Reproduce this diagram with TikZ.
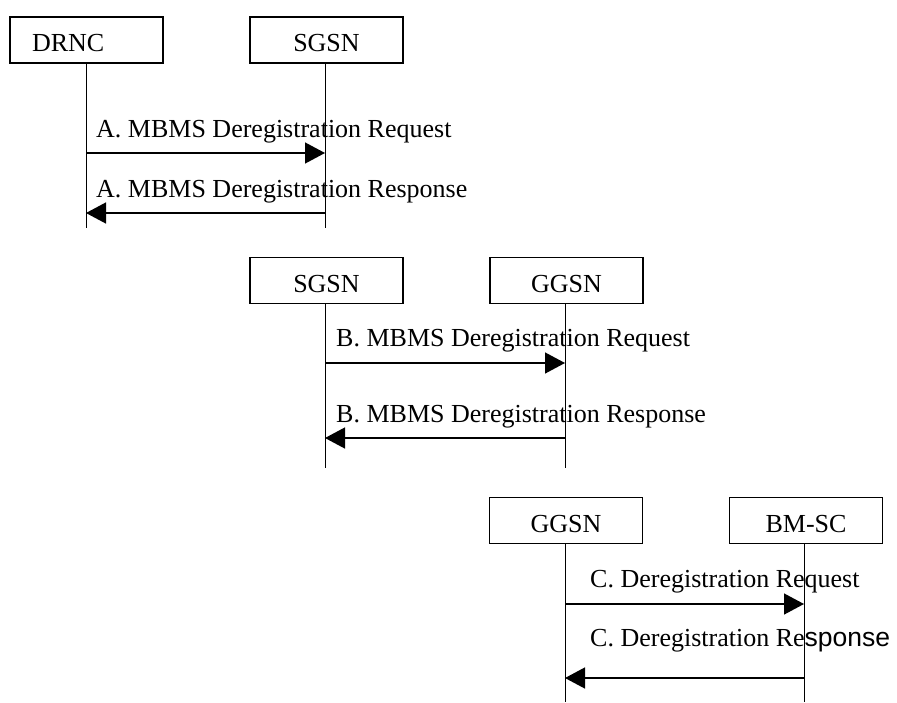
\documentclass[tikz,border=0pt]{standalone}
\usepackage{fontspec}
\setmainfont{Liberation Serif}
\newfontfamily\arialfont{Liberation Sans}
\usetikzlibrary{arrows.meta}
\begin{document}
\begin{tikzpicture}[x=1pt,y=-1pt,
  actorbox/.style={draw,line width=1.6pt,minimum width=153pt,minimum height=46pt,inner sep=0pt,text height=23pt,text depth=0pt,font=\fontsize{26}{28}\selectfont},
  lifeline/.style={line width=0.9pt},
  msg/.style={line width=1.4pt,-{Triangle[length=20pt,width=21pt]}},
  lbl/.style={anchor=base west,inner sep=0pt,font=\fontsize{26}{28}\selectfont}]
\useasboundingbox (0,0) rectangle (897,702);
% Section A
\node[actorbox,text width=109pt,inner xsep=22pt,align=left] (drnc) at (86.5,40) {DRNC};
\node[actorbox] (sgsnA) at (326.5,40) {SGSN};
\coordinate (drncEnd) at (86,228);
\coordinate (sgsnAEnd) at (325,228);
\draw[lifeline] (drnc.south -| drncEnd) -- (drncEnd);
\draw[lifeline] (sgsnA.south -| sgsnAEnd) -- (sgsnAEnd);
\coordinate (a1s) at (86,153); \coordinate (a1e) at (325,153);
\coordinate (a2s) at (325,213); \coordinate (a2e) at (86,213);
\draw[msg] (a1s) -- (a1e);
\draw[msg] (a2s) -- (a2e);
\node[lbl] (la1) at (96,137) {A. MBMS Deregistration Request};
\node[lbl] (la2) at (96,197) {A. MBMS Deregistration Response};
% Section B
\node[actorbox] (sgsnB) at (326.5,280.5) {SGSN};
\node[actorbox] (ggsnB) at (566.5,280.5) {GGSN};
\coordinate (sgsnBEnd) at (325,468);
\coordinate (ggsnBEnd) at (565,468);
\draw[lifeline] (sgsnB.south -| sgsnBEnd) -- (sgsnBEnd);
\draw[lifeline] (ggsnB.south -| ggsnBEnd) -- (ggsnBEnd);
\coordinate (b1s) at (325,363); \coordinate (b1e) at (565,363);
\coordinate (b2s) at (565,438); \coordinate (b2e) at (325,438);
\draw[msg] (b1s) -- (b1e);
\draw[msg] (b2s) -- (b2e);
\node[lbl] (lb1) at (336,346) {B. MBMS Deregistration Request};
\node[lbl] (lb2) at (336,422) {B. MBMS Deregistration Response};
% Section C
\node[actorbox] (ggsnC) at (566,520.5) {GGSN};
\node[actorbox] (bmsc) at (806,520.5) {BM-SC};
\coordinate (ggsnCEnd) at (565,702);
\coordinate (bmscEnd) at (804,702);
\draw[lifeline] (ggsnC.south -| ggsnCEnd) -- (ggsnCEnd);
\draw[lifeline] (bmsc.south -| bmscEnd) -- (bmscEnd);
\coordinate (c1s) at (565,604); \coordinate (c1e) at (804,604);
\coordinate (c2s) at (804,678); \coordinate (c2e) at (565,678);
\draw[msg] (c1s) -- (c1e);
\draw[msg] (c2s) -- (c2e);
\node[lbl] (lc1) at (590,587) {C. Deregistration Request};
\node[lbl] (lc2) at (590,646) {C. Deregistration Re{\arialfont\fontsize{26.5}{28}\selectfont sponse}};
\end{tikzpicture}
\end{document}
